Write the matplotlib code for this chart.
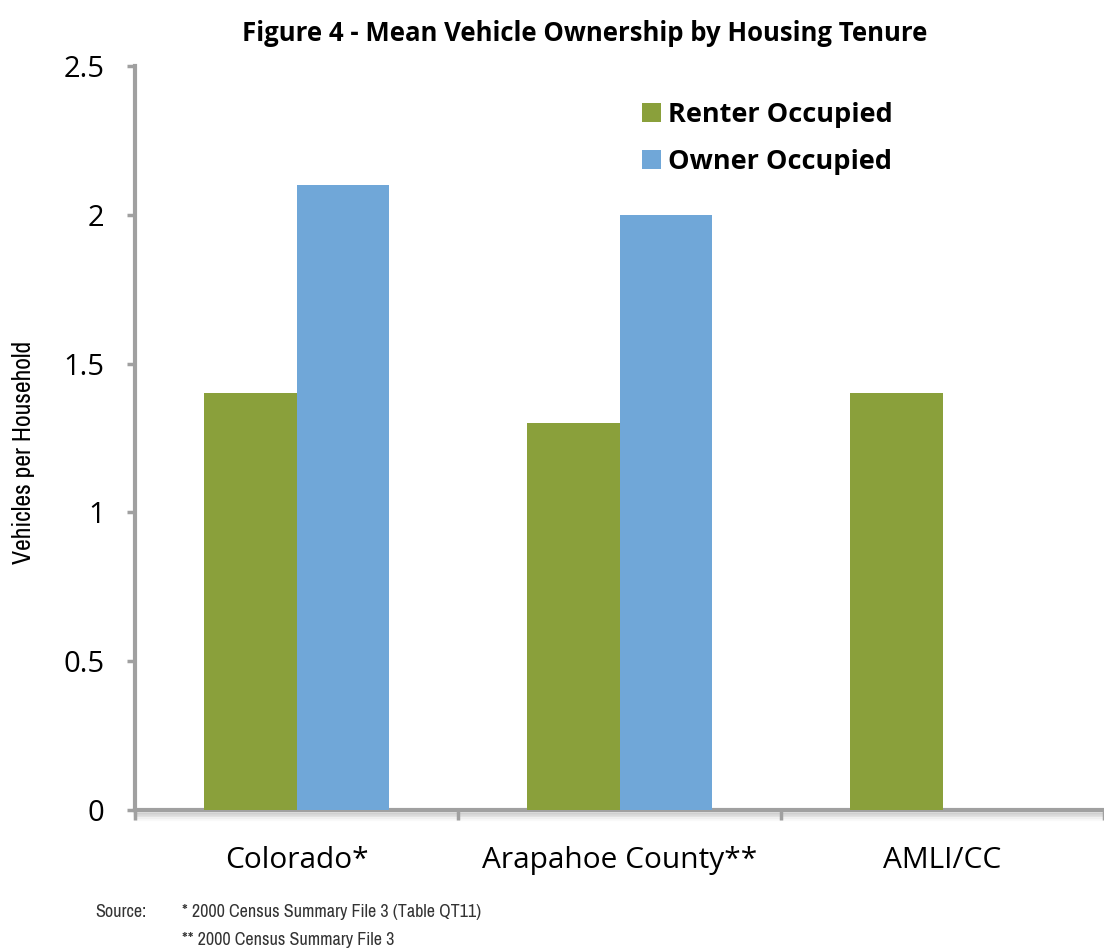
import numpy as np
import matplotlib
matplotlib.use("Agg")
import matplotlib.pyplot as plt
from matplotlib import font_manager

categories = ["Colorado*", "Arapahoe County**", "AMLI/CC"]
renter = [1.4, 1.3, 1.4]
owner = [2.1, 2.0, np.nan]
series_names = ["Renter Occupied", "Owner Occupied"]
yticks = [0, 0.5, 1, 1.5, 2, 2.5]
ytick_labels = ["0", "0.5", "1", "1.5", "2", "2.5"]
title = "Figure 4 - Mean Vehicle Ownership by Housing Tenure"
ylabel = "Vehicles per Household"
source_lines = ["* 2000 Census Summary File 3 (Table QT11)", "** 2000 Census Summary File 3"]

green = "#8aa03b"
blue = "#70a7d8"
spine_gray = "#a0a0a0"

fonts = font_manager.fontManager.ttflist
names = {f.name for f in fonts}
main_font = "Open Sans" if "Open Sans" in names else "DejaVu Sans"

# look for a condensed face for the small texts
narrow_font = None
narrow_stretch = "normal"
for f in fonts:
    if "Narrow" in f.name or "Condensed" in f.name:
        narrow_font = f.name
        break
if narrow_font is None:
    for f in fonts:
        if str(f.stretch) in ("condensed", "semi-condensed", "500", "300"):
            narrow_font = f.name
            narrow_stretch = f.stretch
            break
if narrow_font is None:
    narrow_font = main_font

plt.rcParams["font.family"] = [main_font, "DejaVu Sans"]

fig = plt.figure(figsize=(11.04, 9.5), dpi=100)
ax = fig.add_axes([0.1223, 0.1474, 0.8777, 0.7831])

x = np.arange(len(categories))
w = 0.285
ax.bar(x - w / 2, renter, w, color=green, label=series_names[0], zorder=3)
ax.bar(x + w / 2, owner, w, color=blue, label=series_names[1], zorder=3)

ax.set_xlim(-0.5, 2.5)
ax.set_ylim(0, 2.5)
ax.set_yticks(yticks)
ax.set_yticklabels(ytick_labels, fontsize=21)
ax.set_xticks(x)
ax.set_xticklabels(categories, fontsize=21.5)
ax.tick_params(axis="x", length=0, pad=26)
ax.tick_params(axis="y", length=6, width=2.5, color=spine_gray, pad=16)

# category separators on the x axis
ax.set_xticks(np.arange(-0.5, 3.0, 1.0), minor=True)
ax.tick_params(axis="x", which="minor", length=7, width=2.5, color=spine_gray)

for s in ["top", "right"]:
    ax.spines[s].set_visible(False)
for s in ["left", "bottom"]:
    ax.spines[s].set_color(spine_gray)
    ax.spines[s].set_linewidth(3)

# soft shadow under the x axis
for i, a in enumerate([0.10, 0.08, 0.06, 0.04, 0.025]):
    ax.axhline(-0.006 - i * 0.006, color="black", alpha=a, lw=2.5, clip_on=False, zorder=1)

small = dict(family=[narrow_font, "DejaVu Sans"], fontstretch=narrow_stretch)
fig.text(0.021, 0.524, ylabel, rotation=90, ha="center", va="center", fontsize=18.5, **small)

fig.text(0.53, 0.965, title, ha="center", va="center", fontsize=18.5, fontweight="bold")

leg = ax.legend(loc="upper left", bbox_to_anchor=(0.498, 0.985), frameon=False,
                prop={"size": 19.5, "weight": "bold"}, handlelength=0.7, handleheight=0.7,
                handletextpad=0.25, labelspacing=0.8)

fig.text(0.086, 0.04, "Source:", fontsize=13, color="#333333", va="center", **small)
fig.text(0.165, 0.04, source_lines[0], fontsize=13, color="#333333", va="center", **small)
fig.text(0.165, 0.01, source_lines[1], fontsize=13, color="#333333", va="center", **small)

fig.savefig("out.png", dpi=100)
